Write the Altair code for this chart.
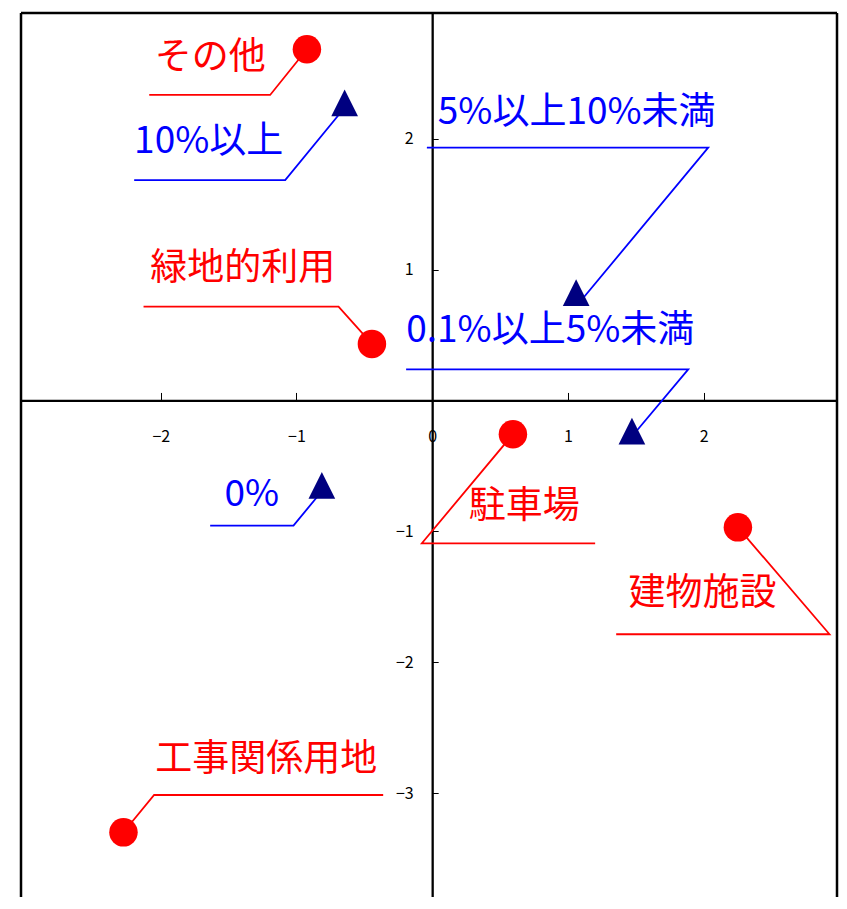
import altair as alt
import pandas as pd

# ---- data (all in data units of the two axes) ----
# land-use categories (red circles)
cat_names = ["その他", "緑地的利用", "駐車場", "建物施設", "工事関係用地"]
cat_x = [-0.923, -0.444, 0.595, 2.253, -2.275]
cat_y = [2.683, 0.432, -0.258, -0.969, -3.299]

# ratio classes (navy triangles)
ratio_names = ["10%以上", "5%以上10%未満", "0.1%以上5%未満", "0%"]
ratio_x = [-0.645, 1.061, 1.472, -0.813]
ratio_y = [2.273, 0.824, -0.235, -0.648]

# label anchors
cat_label_x = [-1.636, -1.396, 0.678, 1.993, -1.223]
cat_label_y = [2.620, 1.005, -0.814, -1.478, -2.743]
ratio_label_x = [-1.647, 1.065, 0.870, -1.330]
ratio_label_y = [1.971, 2.196, 0.527, -0.726]

# leader lines: underline start, corner, then to the marker
cat_lead_x0 = [-2.085, -2.127, 1.201, 1.356, -0.361]
cat_lead_x1 = [-1.194, -0.690, -0.076, 2.928, -2.049]
cat_lead_y = [2.334, 0.717, -1.091, -1.786, -3.014]
ratio_lead_x0 = [-2.196, -0.039, -0.192, -1.636]
ratio_lead_x1 = [-1.083, 2.034, 1.887, -1.022]
ratio_lead_y = [1.684, 1.931, 0.238, -0.956]
ratio_lead_end_x = [-0.641, 1.096, 1.481, -0.801]
ratio_lead_end_y = [2.242, 0.762, -0.264, -0.678]

x_ticks = [-2, -1, 0, 1, 2]
y_ticks = [-3, -2, -1, 1, 2]

W, H = 816, 884
X_MIN = -3.03
X_MAX = X_MIN + W / 135.7
Y_MAX = 2.96
Y_MIN = Y_MAX - H / 130.9

RED = "#FF0000"
BLUE = "#0000FF"
NAVY = "#000080"
FONT = "Noto Sans CJK JP"

# ---- tables ----
cat_df = pd.DataFrame({"name": cat_names, "x": cat_x, "y": cat_y,
                       "lx": cat_label_x, "ly": cat_label_y})
ratio_df = pd.DataFrame({"name": ratio_names, "x": ratio_x, "y": ratio_y,
                         "lx": ratio_label_x, "ly": ratio_label_y})

rows = []
for i, n in enumerate(cat_names):
    pts = [(cat_lead_x0[i], cat_lead_y[i]), (cat_lead_x1[i], cat_lead_y[i]), (cat_x[i], cat_y[i])]
    for k, (px, py) in enumerate(pts):
        rows.append({"id": n, "o": k, "x": px, "y": py})
cat_lines = pd.DataFrame(rows)

rows = []
for i, n in enumerate(ratio_names):
    pts = [(ratio_lead_x0[i], ratio_lead_y[i]), (ratio_lead_x1[i], ratio_lead_y[i]),
           (ratio_lead_end_x[i], ratio_lead_end_y[i])]
    for k, (px, py) in enumerate(pts):
        rows.append({"id": n, "o": k, "x": px, "y": py})
ratio_lines = pd.DataFrame(rows)

# frame: left, right, top edges (the bottom runs off the page)
frame_df = pd.DataFrame({
    "x": [X_MIN, X_MAX, X_MIN],
    "x2": [X_MIN, X_MAX, X_MAX],
    "y": [Y_MIN, Y_MIN, Y_MAX],
    "y2": [Y_MAX, Y_MAX, Y_MAX],
})

# ---- axes crossing at the origin ----
x_axis_offset = -(H * Y_MAX / (Y_MAX - Y_MIN))
y_axis_offset = -(W * X_MAX / (X_MAX - X_MIN))

common_axis = dict(title=None, grid=False, domainColor="black", domainWidth=2.3,
                   tickColor="black", tickWidth=1, labelFont=FONT, labelFontSize=16,
                   labelColor="black", labelFlush=False, labelOverlap=False, format="d")

x_scale = alt.Scale(domain=[X_MIN, X_MAX], nice=False, zero=False)
y_scale = alt.Scale(domain=[Y_MIN, Y_MAX], nice=False, zero=False)

x_enc = alt.X("x:Q", scale=x_scale,
              axis=alt.Axis(orient="top", offset=x_axis_offset, values=x_ticks,
                            tickSize=8, labelPadding=-44, labelBaseline="middle",
                            **common_axis))
y_enc = alt.Y("y:Q", scale=y_scale,
              axis=alt.Axis(orient="right", offset=y_axis_offset, values=y_ticks,
                            tickSize=6, labelPadding=-25, labelAlign="right",
                            labelBaseline="middle", **common_axis))

frame = alt.Chart(frame_df).mark_rule(color="black", strokeWidth=2.5).encode(
    x=x_enc, x2="x2:Q", y=y_enc, y2="y2:Q")

cat_line_layer = alt.Chart(cat_lines).mark_line(color=RED, strokeWidth=1.8).encode(
    x=x_enc, y=y_enc, detail="id:N", order="o:Q")
ratio_line_layer = alt.Chart(ratio_lines).mark_line(color=BLUE, strokeWidth=1.8).encode(
    x=x_enc, y=y_enc, detail="id:N", order="o:Q")

circles = alt.Chart(cat_df).mark_point(shape="circle", filled=True, size=812,
                                       color=RED, opacity=1).encode(x=x_enc, y=y_enc)
triangles = alt.Chart(ratio_df).mark_point(shape="M0,-1L1,1L-1,1Z", filled=True, size=713,
                                           color=NAVY, opacity=1).encode(x=x_enc, y=y_enc)

cat_text = alt.Chart(cat_df).mark_text(font=FONT, fontSize=37, color=RED, align="center",
                                       baseline="middle", dy=0).encode(
    x=alt.X("lx:Q", scale=x_scale), y=alt.Y("ly:Q", scale=y_scale), text="name:N")
ratio_text = alt.Chart(ratio_df).mark_text(font=FONT, fontSize=37, color=BLUE, align="center",
                                           baseline="middle", dy=0).encode(
    x=alt.X("lx:Q", scale=x_scale), y=alt.Y("ly:Q", scale=y_scale), text="name:N")

chart = alt.layer(frame, cat_line_layer, ratio_line_layer, circles, triangles,
                  cat_text, ratio_text).properties(
    width=W, height=H,
    autosize=alt.AutoSizeParams(type="none"),
    padding={"left": 13, "top": 5, "right": 2, "bottom": 0},
    background="white",
).configure_view(stroke=None)

chart.save("out.html", embed_options={"renderer": "svg", "actions": False})
